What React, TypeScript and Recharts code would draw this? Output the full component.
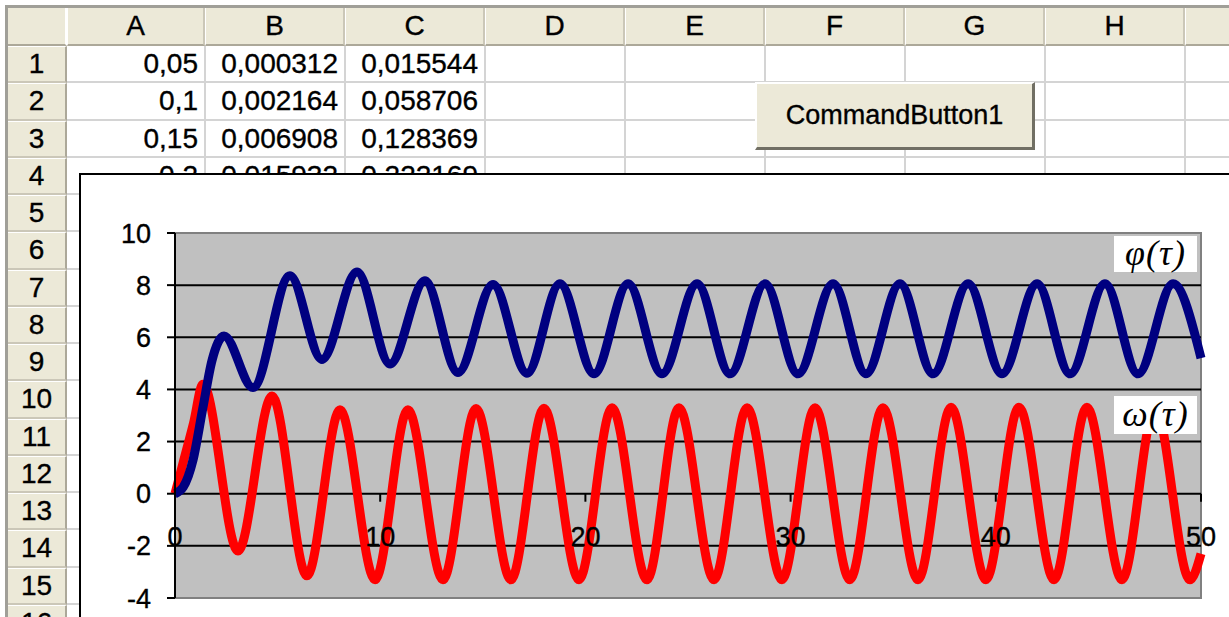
import React from 'react';
import { LineChart, Line, XAxis, YAxis, ReferenceLine, ReferenceArea } from 'recharts';

// ---- spreadsheet content ----
const columnLetters = ['A', 'B', 'C', 'D', 'E', 'F', 'G', 'H', ''];
const rowLabels = ['1', '2', '3', '4', '5', '6', '7', '8', '9', '10', '11', '12', '13', '14', '15', '16'];
const colA = ['0,05', '0,1', '0,15', '0,2'];
const colB = ['0,000312', '0,002164', '0,006908', '0,015932'];
const colC = ['0,015544', '0,058706', '0,128369', '0,222169'];
const buttonCaption = 'CommandButton1';

// ---- chart content ----
const xTicks = [0, 10, 20, 30, 40, 50];
const yTicks = [-4, -2, 0, 2, 4, 6, 8, 10];
const gridValues = [-2, 0, 2, 4, 6, 8];
const phiLabel = 'φ(τ)';
const omegaLabel = 'ω(τ)';

// omega(tau) – red series, read at extrema
const omegaTau = [0, 0.4, 0.9, 1.36, 3.07, 4.73, 6.43, 8.04, 9.75, 11.35, 13.06, 14.67, 16.37, 17.98, 19.69, 21.3, 23.0, 24.56, 26.27, 27.88, 29.58, 31.19, 32.89, 34.5, 36.21, 37.82, 39.52, 41.13, 42.84, 44.44, 46.15, 47.76, 49.46, 50];
const omegaVal = [0, 1.2, 2.7, 4.2, -2.2, 3.75, -3.15, 3.22, -3.3, 3.22, -3.3, 3.27, -3.3, 3.28, -3.3, 3.3, -3.3, 3.3, -3.3, 3.3, -3.3, 3.3, -3.3, 3.3, -3.3, 3.32, -3.3, 3.32, -3.3, 3.32, -3.3, 3.3, -3.3, -2.3];

// phi(tau) – navy series, read at extrema
const phiTau = [0, 0.4, 0.88, 1.36, 1.8, 2.39, 3.8, 5.6, 7.16, 8.87, 10.48, 12.18, 13.79, 15.5, 17.15, 18.76, 20.42, 22.08, 23.73, 25.44, 27.05, 28.75, 30.36, 32.07, 33.67, 35.33, 36.94, 38.65, 40.3, 42.01, 43.62, 45.32, 46.93, 48.64, 50];
const phiVal = [0, 0.25, 1.3, 3.3, 5.1, 6.05, 4.07, 8.36, 5.15, 8.5, 4.98, 8.17, 4.65, 8.02, 4.62, 8.05, 4.6, 8.05, 4.6, 8.05, 4.6, 8.05, 4.6, 8.05, 4.6, 8.05, 4.6, 8.05, 4.6, 8.05, 4.6, 8.05, 4.6, 8.05, 5.2];

const omegaData = omegaTau.map((t, i) => ({ t, v: omegaVal[i] }));
const phiData = phiTau.map((t, i) => ({ t, v: phiVal[i] }));

// ---- layout ----
const W = 1229;
const H = 617;
const FONT = '"Liberation Sans", Arial, sans-serif';
const SERIF = '"Liberation Serif", "Times New Roman", serif';
const BEIGE = '#ECE9D8';
const columnEdges = [67, 205, 345, 485, 625, 765, 905, 1045, 1185, 1325];
const HEADER_TOP = 8;
const ROW_TOP0 = 46;
const ROW_H = 37.25;
const TEXT_STROKE = '0.35px #000';

const CHART_LEFT = 79;
const CHART_TOP = 173;
const CHART_W = W - CHART_LEFT;
const CHART_H = H - CHART_TOP;
const PLOT_TOP = 60;
const PLOT_H = 365;
const Y_MIN = -4;
const Y_MAX = 10;
const ZERO_Y = PLOT_TOP + (PLOT_H * (Y_MAX - 0)) / (Y_MAX - Y_MIN);

const renderXTick = (props: any) => {
  const { x, payload } = props;
  return (
    <g>
      <line x1={x} x2={x} y1={ZERO_Y} y2={ZERO_Y + 8} stroke="#000" strokeWidth={2} />
      <text x={x} y={ZERO_Y + 43} dy="0.355em" textAnchor="middle" fontFamily={FONT} fontSize={27} fill="#000" stroke="#000" strokeWidth={0.35}>
        {payload.value}
      </text>
    </g>
  );
};

function Sheet() {
  const els: React.ReactNode[] = [];
  // outer frame
  els.push(<div key="ft" style={{ position: 'absolute', left: 5, top: 5, width: W, height: 3, background: '#A09F98' }} />);
  els.push(<div key="fl" style={{ position: 'absolute', left: 5, top: 5, width: 3, height: H, background: '#A09F98' }} />);
  // corner
  els.push(
    <div key="corner" style={{ position: 'absolute', left: 8, top: HEADER_TOP, width: 59, height: ROW_TOP0 - HEADER_TOP, background: BEIGE, boxSizing: 'border-box', borderRight: '2px solid #FFFFFF', borderBottom: '2px solid #ACA899' }} />
  );
  // column headers
  columnLetters.forEach((c, i) => {
    const l = columnEdges[i];
    const w = columnEdges[i + 1] - l;
    els.push(
      <div key={'ch' + i} style={{ position: 'absolute', left: l, top: HEADER_TOP, width: w, height: ROW_TOP0 - HEADER_TOP, background: BEIGE, boxSizing: 'border-box', borderRight: '2px solid #CBC7B8', borderLeft: '1px solid #FFFFFF', borderBottom: '2px solid #ACA899', fontFamily: FONT, fontSize: 28, lineHeight: (ROW_TOP0 - HEADER_TOP - 2) + 'px', textAlign: 'center', color: '#000', WebkitTextStroke: TEXT_STROKE }}>
        {c}
      </div>
    );
  });
  // row headers + horizontal grid lines
  rowLabels.forEach((r, i) => {
    const top = ROW_TOP0 + i * ROW_H;
    els.push(
      <div key={'rh' + i} style={{ position: 'absolute', left: 8, top, width: 59, height: ROW_H, background: BEIGE, boxSizing: 'border-box', borderBottom: '2px solid #CBC7B8', borderTop: '1px solid #FFFFFF', borderRight: '2px solid #ACA899', fontFamily: FONT, fontSize: 28, lineHeight: ROW_H - 3 + 'px', textAlign: 'center', color: '#000', WebkitTextStroke: TEXT_STROKE }}>
        {r}
      </div>
    );
    els.push(<div key={'hl' + i} style={{ position: 'absolute', left: 67, top: top + ROW_H - 2, width: W, height: 2, background: '#D4D4D4' }} />);
  });
  // vertical grid lines
  columnEdges.slice(1).forEach((x, i) => {
    els.push(<div key={'vl' + i} style={{ position: 'absolute', left: x - 1, top: ROW_TOP0, width: 2, height: H, background: '#D4D4D4' }} />);
  });
  // cell values
  [colA, colB, colC].forEach((col, ci) => {
    col.forEach((val, ri) => {
      const top = ROW_TOP0 + ri * ROW_H;
      els.push(
        <div key={'cv' + ci + '_' + ri} style={{ position: 'absolute', left: columnEdges[ci], top, width: columnEdges[ci + 1] - columnEdges[ci] - 7, height: ROW_H, fontFamily: FONT, fontSize: 28, lineHeight: ROW_H - 2 + 'px', textAlign: 'right', color: '#000', WebkitTextStroke: TEXT_STROKE, whiteSpace: 'nowrap' }}>
          {val}
        </div>
      );
    });
  });
  // button
  els.push(
    <div key="btn" style={{ position: 'absolute', left: 755, top: 82, width: 280, height: 68, boxSizing: 'border-box', background: BEIGE, borderTop: '2px solid #FFFFFF', borderLeft: '2px solid #FFFFFF', borderRight: '3px solid #716F64', borderBottom: '3px solid #716F64', fontFamily: FONT, fontSize: 27, lineHeight: '62px', textAlign: 'center', color: '#000', WebkitTextStroke: TEXT_STROKE }}>
      {buttonCaption}
    </div>
  );
  return <>{els}</>;
}

export default function App() {
  return (
    <div style={{ position: 'absolute', left: 0, top: 0, width: W, height: H, overflow: 'hidden', background: '#FFFFFF' }}>
      <Sheet />
      <div style={{ position: 'absolute', left: CHART_LEFT, top: CHART_TOP, width: CHART_W + 10, height: CHART_H + 10, background: '#FFFFFF', boxSizing: 'border-box', borderLeft: '2px solid #000', borderTop: '2px solid #000' }} />
      <div style={{ position: 'absolute', left: CHART_LEFT, top: CHART_TOP }}>
        <LineChart width={CHART_W} height={CHART_H} margin={{ top: PLOT_TOP, right: 28, bottom: CHART_H - PLOT_TOP - PLOT_H - 1, left: 16 }}>
          <XAxis type="number" dataKey="t" domain={[0, 50]} ticks={xTicks} interval={0} axisLine={false} tickLine={false} tick={renderXTick} height={1} allowDuplicatedCategory={false} />
          <YAxis type="number" domain={[Y_MIN, Y_MAX]} ticks={yTicks} interval={0} width={80} tickSize={8} tickMargin={16}
            axisLine={{ stroke: '#000', strokeWidth: 2 }} tickLine={{ stroke: '#000', strokeWidth: 2 }}
            tick={{ fontFamily: FONT, fontSize: 27, fill: '#000', stroke: '#000', strokeWidth: 0.35 }} />
          <ReferenceArea x1={0} x2={50} y1={Y_MIN} y2={Y_MAX} fill="#C0C0C0" fillOpacity={1} stroke="#808080" strokeWidth={2} />
          {gridValues.map((g) => (
            <ReferenceLine key={g} y={g} stroke="#000" strokeWidth={2} />
          ))}
          <Line data={omegaData} dataKey="v" type="monotone" stroke="#FF0000" strokeWidth={9} dot={false} isAnimationActive={false} strokeLinejoin="round" />
          <Line data={phiData} dataKey="v" type="monotone" stroke="#000080" strokeWidth={9} dot={false} isAnimationActive={false} strokeLinejoin="round" />
        </LineChart>
      </div>
      <div style={{ position: 'absolute', left: 1114, top: 236, width: 83, height: 36, background: '#FFFFFF', fontFamily: SERIF, fontStyle: 'italic', fontSize: 36, lineHeight: '34px', textAlign: 'center', letterSpacing: 1, color: '#000' }}>
        {phiLabel}
      </div>
      <div style={{ position: 'absolute', left: 1114, top: 396, width: 83, height: 38, background: '#FFFFFF', fontFamily: SERIF, fontStyle: 'italic', fontSize: 36, lineHeight: '36px', textAlign: 'center', letterSpacing: 1, color: '#000' }}>
        {omegaLabel}
      </div>
    </div>
  );
}
